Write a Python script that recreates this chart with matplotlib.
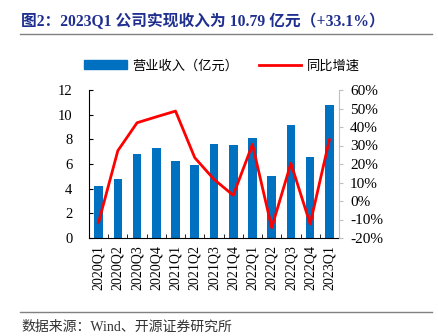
import numpy as np
import matplotlib
matplotlib.use('Agg')
from matplotlib import pyplot as plt
from matplotlib.lines import Line2D
from matplotlib.patches import Patch
from matplotlib.ticker import FuncFormatter, MultipleLocator

plt.rcParams['font.family'] = ['Liberation Serif', 'Noto Sans CJK SC']

# --- data ---
quarters = ['2020Q1', '2020Q2', '2020Q3', '2020Q4', '2021Q1', '2021Q2', '2021Q3',
            '2021Q4', '2022Q1', '2022Q2', '2022Q3', '2022Q4', '2023Q1']
revenue = [4.2, 4.75, 6.8, 7.3, 6.25, 5.9, 7.6, 7.55, 8.1, 5.05, 9.15, 6.6, 10.79]
yoy = [-11.5, 27.2, 42.3, 45.5, 48.6, 23.4, 11.7, 3.1, 30.6, -14.4, 20.4, -12.4, 33.1]

title = '图2：2023Q1 公司实现收入为 10.79 亿元（+33.1%）'
source = '数据来源：Wind、开源证券研究所'
bar_label = '营业收入（亿元）'
line_label = '同比增速'

bar_color = '#0070C0'
line_color = '#FF0000'

fig = plt.figure(figsize=(4.38, 3.36), dpi=100)
ax = fig.add_axes([89 / 438, 1 - 238 / 336, 250 / 438, 148 / 336])
ax2 = ax.twinx()

x = np.arange(len(quarters))
ax.bar(x, revenue, width=0.45, color=bar_color, zorder=2)
ax2.plot(x, yoy, color=line_color, lw=2, zorder=3)

# --- left axis ---
ax.set_xlim(-0.5, len(quarters) - 0.5)
ax.set_ylim(0, 12)
ax.yaxis.set_major_locator(MultipleLocator(2))
ax.tick_params(axis='y', direction='in', length=3, labelsize=10.5, pad=12)
ax.set_xticks(x)
ax.set_xticklabels(quarters, rotation=90, fontsize=10)
ax.tick_params(axis='x', which='major', length=0, pad=5)
ax.set_xticks(np.arange(0.5, len(quarters) - 0.5, 1), minor=True)
ax.tick_params(axis='x', which='minor', direction='in', length=3)
for s in ['top', 'right']:
    ax.spines[s].set_visible(False)

# --- right axis ---
ax2.set_ylim(-20, 60)
ax2.yaxis.set_major_locator(MultipleLocator(10))
ax2.yaxis.set_major_formatter(FuncFormatter(lambda v, p: f'{v:.0f}%'))
ax2.tick_params(axis='y', direction='out', length=3, color='#BFBFBF', labelsize=11, pad=5)
for s in ['top', 'left', 'bottom']:
    ax2.spines[s].set_visible(False)
ax2.spines['right'].set_color('#BFBFBF')

# --- legend ---
handles = [Patch(color=bar_color, label=bar_label),
           Line2D([], [], color=line_color, lw=2, label=line_label)]
fig.legend(handles=handles, loc='center', bbox_to_anchor=(222 / 438, 1 - 66 / 336),
           ncol=2, frameon=False, fontsize=9.5, handlelength=3.2, handleheight=0.6,
           columnspacing=1.6, handletextpad=0.4)

# --- title and source ---
fig.text(21 / 438, 1 - 22 / 336, title, fontsize=11.3, fontweight='bold',
         color='#1F2F8F', va='center', ha='left')
fig.add_artist(Line2D([20 / 438, 432 / 438], [1 - 34 / 336] * 2, color='#808080', lw=1))
fig.add_artist(Line2D([20 / 438, 432 / 438], [1 - 312 / 336] * 2, color='#808080', lw=1))
fig.text(21 / 438, 1 - 327 / 336, source, fontsize=10, color='#333333', va='center', ha='left')

fig.savefig('out.png', dpi=100)
